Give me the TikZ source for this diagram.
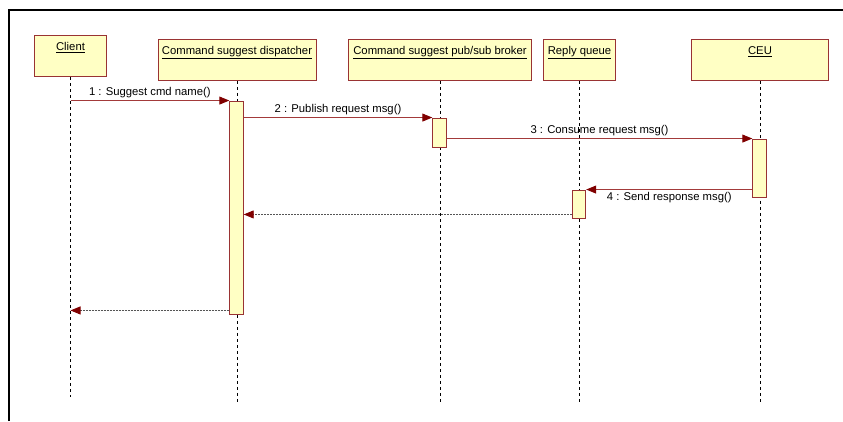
\documentclass[tikz,border=0pt]{standalone}
\usepackage{fontspec}
\setmainfont{Liberation Sans}
\usepackage{tikz}
\usetikzlibrary{arrows.meta,positioning,calc}
\definecolor{umlfill}{HTML}{FFFFC4}
\definecolor{umlborder}{HTML}{993333}
\definecolor{umlhead}{HTML}{800000}
\definecolor{umlline}{HTML}{A33A3A}
\definecolor{umlgray}{HTML}{555555}

\begin{document}
\begin{tikzpicture}[
  x=1pt, y=-1pt,
  font=\fontsize{11.3}{13}\selectfont,
  obj/.style={draw=umlborder, fill=umlfill, line width=0.9pt, anchor=north, minimum height=41pt, inner sep=2pt, text height=13pt, text depth=24pt},
  act/.style={draw=umlborder, fill=umlfill, line width=0.9pt, minimum width=13.5pt, inner sep=0pt},
  life/.style={dash pattern=on 3pt off 3pt, line width=0.7pt, draw=black},
  msg/.style={draw=umlline, line width=0.9pt, arrows={-{Triangle[length=10pt, width=8pt, color=umlhead]}}},
  ret/.style={draw=umlgray, dash pattern=on 2pt off 1pt, line width=0.9pt, arrows={-{Triangle[length=10pt, width=8pt, color=umlhead]}}},
  lbl/.style={text=black, inner sep=2pt},
  frame/.style={draw=black, line width=1.3pt}
]
\useasboundingbox (0,0) rectangle (843,421);
\draw[frame] (9,421) |- (843,10);

\node[obj, minimum width=72pt] (client) at (70.5,35) {\underline{Client}};
\node[obj, minimum width=158pt] (dsp) at (237,39) {\underline{Command suggest dispatcher}};
\node[obj, minimum width=183pt] (brk) at (440,39) {\underline{Command suggest pub/sub broker}};
\node[obj, minimum width=72pt] (rq) at (579.5,39) {\underline{Reply queue}};
\node[obj, minimum width=137pt] (ceu) at (760,39) {\underline{CEU}};

\coordinate (clientEnd) at (70.5,397);
\coordinate (dspEnd) at (237,403);
\coordinate (brkEnd) at (440,403);
\coordinate (rqEnd) at (579.5,403);
\coordinate (ceuEnd) at (760,403);
\draw[life] (client.south) -- (clientEnd);
\draw[life] (dsp.south) -- (dspEnd);
\draw[life] (brk.south) -- (brkEnd);
\draw[life] (rq.south) -- (rqEnd);
\draw[life] (ceu.south) -- (ceuEnd);

\node[act, minimum height=213pt] (dspAct) at (236.5,207.5) {};
\node[act, minimum height=29pt] (brkAct) at (439.5,132.5) {};
\node[act, minimum height=58pt] (ceuAct) at (759.5,168) {};
\node[act, minimum height=28pt] (rqAct) at (579,204) {};

\draw[msg] (client.south |- dspAct.north west) -- node[lbl, above] {1 : Suggest cmd name()} (dspAct.north west);
\draw[msg] (dspAct.east |- brkAct.north west) -- node[lbl, above] {2 : Publish request msg()} (brkAct.north west);
\draw[msg] (brkAct.east |- ceuAct.north west) -- node[lbl, above] {3 : Consume request msg()} (ceuAct.north west);
\draw[msg] (ceuAct.west |- rqAct.north east) -- node[lbl, below] {4 : Send response msg()} (rqAct.north east);

\path ([yshift=4pt]rqAct.south west) coordinate (r5);
\path ([yshift=4pt]dspAct.south west) coordinate (r6);
\draw[ret] (r5) -- (dspAct.east |- r5);
\draw[ret] (r6) -- (client.south |- r6);
\end{tikzpicture}
\end{document}
